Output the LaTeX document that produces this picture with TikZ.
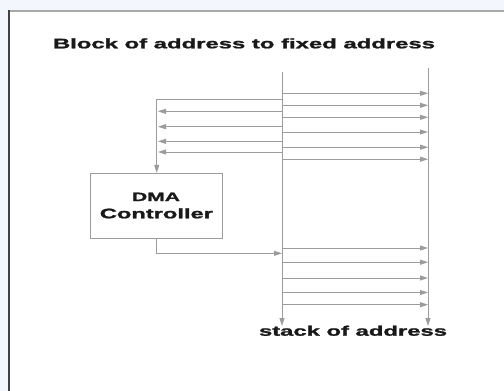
\documentclass[tikz,border=0pt]{standalone}
\usepackage{fontspec}
\setmainfont{Liberation Sans}
\newfontfamily\heavyfont{Liberation Sans Bold}[FakeBold=1.2]
\usetikzlibrary{arrows.meta}
\definecolor{bgblue}{HTML}{F3F6FC}
\definecolor{linegray}{HTML}{9C9C9C}
\definecolor{topgray}{HTML}{A8A8A8}
\definecolor{leftdark}{HTML}{404040}
\tikzset{
  conn/.style={draw=linegray, line width=0.9pt},
  arr/.style={conn, -{Triangle[length=8pt,width=5pt,fill=linegray]}},
  lbl/.style={inner sep=0pt, anchor=base, text=black!90},
  box/.style={draw=linegray, line width=0.9pt, fill=white, minimum width=132pt, minimum height=65pt, inner sep=0pt}
}
\begin{document}
\begin{tikzpicture}[x=1pt,y=-1pt]
\useasboundingbox (0,0) rectangle (504,391);
\fill[bgblue] (0,0) rectangle (504,391);
\fill[white] (9,11) rectangle (504,391);
\draw[topgray, line width=2pt] (9,11) -- (504,11);
\draw[leftdark, line width=2pt] (9,10) -- (9,391);

% title
\node[lbl] (title) at (244,48.3) {\resizebox{382pt}{10pt}{\heavyfont Block of address to fixed address}};

% buses
\coordinate (lbtop) at (282,72);
\coordinate (lbbot) at (282,326);
\coordinate (rbtop) at (428,68);
\coordinate (rbbot) at (428,326);
\draw[arr] (lbtop) -- (lbbot);
\draw[arr] (rbtop) -- (rbbot);

% top right arrows
\foreach \y [count=\i] in {93.3,105.3,117.3,132,147.2,159.2}{
  \coordinate (ra\i) at (282,\y);
  \coordinate (rb\i) at (428,\y);
  \draw[arr] (ra\i) -- (rb\i);
}
% lower right arrows
\foreach \y [count=\i] in {248,262.2,278,292.5,304.7}{
  \coordinate (sa\i) at (282,\y);
  \coordinate (sb\i) at (428,\y);
  \draw[arr] (sa\i) -- (sb\i);
}

% DMA box
\node[box] (dma) at (156.7,205.7) {};
\node[lbl] (dmat) at (156,201) {\resizebox{48pt}{8.3pt}{\heavyfont DMA}};
\node[lbl] (ctrl) at (156.4,218.3) {\resizebox{113pt}{10pt}{\heavyfont Controller}};

% left feedback arrows
\coordinate (fa) at (282,99.3);
\coordinate (fc) at (156.7,99.3);
\draw[arr] (fa) -- (fc) -- (dma.north);
\foreach \y [count=\i] in {111.3,126.7,141.3,152}{
  \coordinate (la\i) at (282,\y);
  \coordinate (lb\i) at (158,\y);
  \draw[arr] (la\i) -- (lb\i);
}

% DMA to bus
\coordinate (dd) at (156.7,253.3);
\coordinate (de) at (282,253.3);
\draw[arr] (dma.south) -- (dd) -- (de);

% bottom label
\node[lbl] (stack) at (353,335.7) {\resizebox{188pt}{10pt}{\heavyfont stack of address}};
\end{tikzpicture}
\end{document}
